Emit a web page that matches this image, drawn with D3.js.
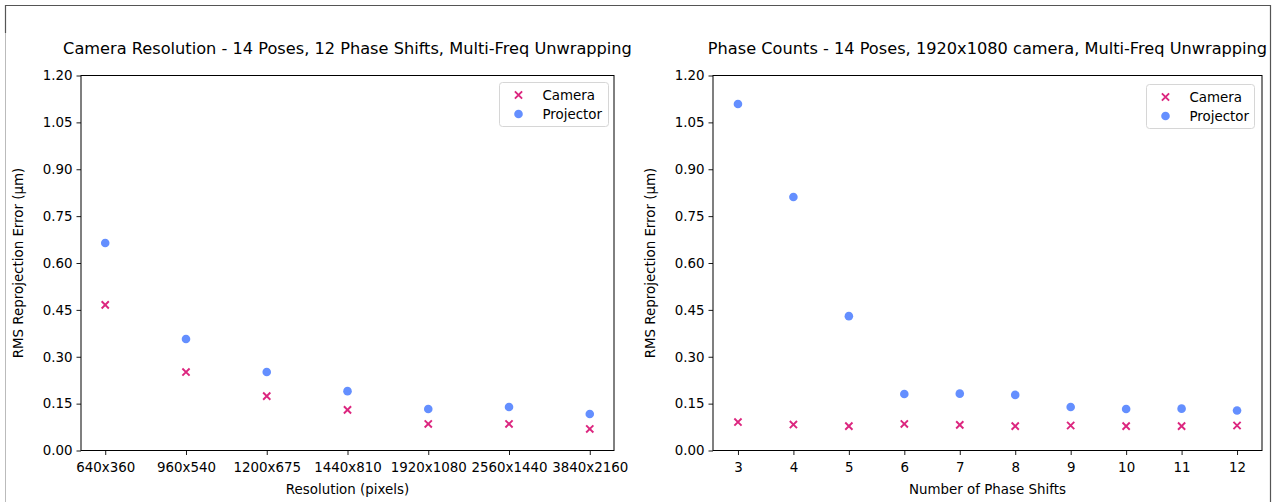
<!DOCTYPE html>
<html>
<head>
<meta charset="utf-8">
<script src="https://cdn.jsdelivr.net/npm/d3@7"></script>
<style>
body { margin: 0; background: #fff; }
text { font-family: "DejaVu Sans", sans-serif; fill: #000; }
</style>
</head>
<body>
<div id="chart"></div>
<script>
var width = 1277,
height = 502;

// data
var resolutions = ["640x360","960x540","1200x675","1440x810","1920x1080","2560x1440","3840x2160"];
var resCamera = [0.466, 0.251, 0.174, 0.130, 0.085, 0.085, 0.069];
var resProjector = [0.664, 0.357, 0.251, 0.190, 0.133, 0.139, 0.117];

var phaseShifts = [3,4,5,6,7,8,9,10,11,12];
var phaseCamera = [0.091, 0.083, 0.078, 0.085, 0.082, 0.078, 0.080, 0.078, 0.078, 0.080];
var phaseProjector = [1.109, 0.811, 0.430, 0.181, 0.182, 0.178, 0.139, 0.133, 0.134, 0.128];

var yTicks = [0, 0.15, 0.30, 0.45, 0.60, 0.75, 0.90, 1.05, 1.20];

var camColor = "#DC267F",
projColor = "#648FFF";

var tickFont = "13.4px";

var svg = d3.select('#chart').append('svg')
.attr('width', width)
.attr('height', height);

// outer frame
svg.append("path").attr("d","M5.5,33 V5.5 H1270.5 V502")
    .attr("fill","none").attr("stroke","#555").attr("stroke-width",1.2);
svg.append("line").attr("x1",5.5).attr("x2",5.5).attr("y1",33).attr("y2",502)
    .attr("stroke","#bbb").attr("stroke-width",1);

var top_y = 75.5, bottom_y = 450.5;

/**
 * Draw one scatter panel
 */
function panel(opts) {
    let g = svg.append('g');
    let x = opts.x;
    let y = d3.scaleLinear().domain([0,1.2]).range([bottom_y, top_y]);

    // title
    g.append("text")
        .attr("x", (opts.left+opts.right)/2)
        .attr("y", 54)
        .attr("text-anchor","middle")
        .attr("font-size","16.2px")
        .text(opts.title);

    // axes
    let axB = d3.axisBottom(x).tickSizeOuter(0).tickSize(4.5).tickPadding(7);
    if (opts.ticks) axB.tickValues(opts.ticks).tickFormat(d3.format("d"));
    let ax = g.append("g").attr("transform","translate(0,"+bottom_y+")").call(axB);
    let ay = g.append("g").attr("transform","translate("+opts.left+",0)")
        .call(d3.axisLeft(y).tickValues(yTicks).tickFormat(d3.format(".2f")).tickSizeOuter(0).tickSize(4.5).tickPadding(4));
    [ax, ay].forEach(a => {
        a.select(".domain").remove();
        a.selectAll("text").attr("font-size",tickFont).attr("font-family","DejaVu Sans").attr("fill","#000");
        a.selectAll("line").attr("stroke","#000").attr("stroke-width",0.9);
    });

    // frame
    g.append("rect")
        .attr("x", opts.left).attr("y", top_y)
        .attr("width", opts.right-opts.left).attr("height", bottom_y-top_y)
        .attr("fill","none").attr("stroke","#000").attr("stroke-width",1);

    // axis labels
    g.append("text")
        .attr("x",(opts.left+opts.right)/2).attr("y",494)
        .attr("text-anchor","middle").attr("font-size",tickFont)
        .text(opts.xlabel);
    g.append("text")
        .attr("transform","translate("+(opts.left-58)+","+((top_y+bottom_y)/2)+") rotate(-90)")
        .attr("text-anchor","middle").attr("font-size",tickFont)
        .text("RMS Reprojection Error (µm)");

    // projector points
    g.selectAll(".proj").data(opts.proj).enter().append("circle")
        .attr("class","proj")
        .attr("cx",(d,i)=>x(opts.cats[i]))
        .attr("cy",d=>y(d))
        .attr("r",4.3)
        .attr("fill",projColor);

    // camera crosses
    let s = 3.6;
    g.selectAll(".cam").data(opts.cam).enter().append("path")
        .attr("class","cam")
        .attr("transform",(d,i)=>"translate("+x(opts.cats[i])+","+y(d)+")")
        .attr("d","M"+(-s)+","+(-s)+"L"+s+","+s+"M"+(-s)+","+s+"L"+s+","+(-s))
        .attr("stroke",camColor).attr("stroke-width",1.9).attr("fill","none");

    // legend
    let lg = g.append("g").attr("transform","translate("+opts.legX+","+opts.legY+")");
    lg.append("rect").attr("x",0).attr("y",0).attr("width",opts.legW).attr("height",44)
        .attr("rx",3).attr("fill","#fff").attr("stroke","#d6d6d6").attr("stroke-width",1);
    lg.append("path").attr("transform","translate(19,12.5)")
        .attr("d","M"+(-s)+","+(-s)+"L"+s+","+s+"M"+(-s)+","+s+"L"+s+","+(-s))
        .attr("stroke",camColor).attr("stroke-width",1.9);
    lg.append("circle").attr("cx",19).attr("cy",31.5).attr("r",4.3).attr("fill",projColor);
    lg.append("text").attr("x",43).attr("y",17).attr("font-size",tickFont).text("Camera");
    lg.append("text").attr("x",43).attr("y",36).attr("font-size",tickFont).text("Projector");
}

// left panel: categorical resolutions
var xRes = d3.scalePoint().domain(resolutions).range([81+0.3*80.76, 614-0.3*80.76]);
panel({
    x: xRes, cats: resolutions, cam: resCamera, proj: resProjector,
    left: 81, right: 614,
    title: "Camera Resolution - 14 Poses, 12 Phase Shifts, Multi-Freq Unwrapping",
    xlabel: "Resolution (pixels)",
    legX: 499.5, legY: 82.5, legW: 109
});

// right panel: phase shifts
var xPhase = d3.scaleLinear().domain([3-0.45, 12+0.45]).range([713, 1262]);
panel({
    x: xPhase, ticks: phaseShifts,
    cats: phaseShifts, cam: phaseCamera, proj: phaseProjector,
    left: 713, right: 1262,
    title: "Phase Counts - 14 Poses, 1920x1080 camera, Multi-Freq Unwrapping",
    xlabel: "Number of Phase Shifts",
    legX: 1146.5, legY: 84.5, legW: 108
});
</script>
</body>
</html>
